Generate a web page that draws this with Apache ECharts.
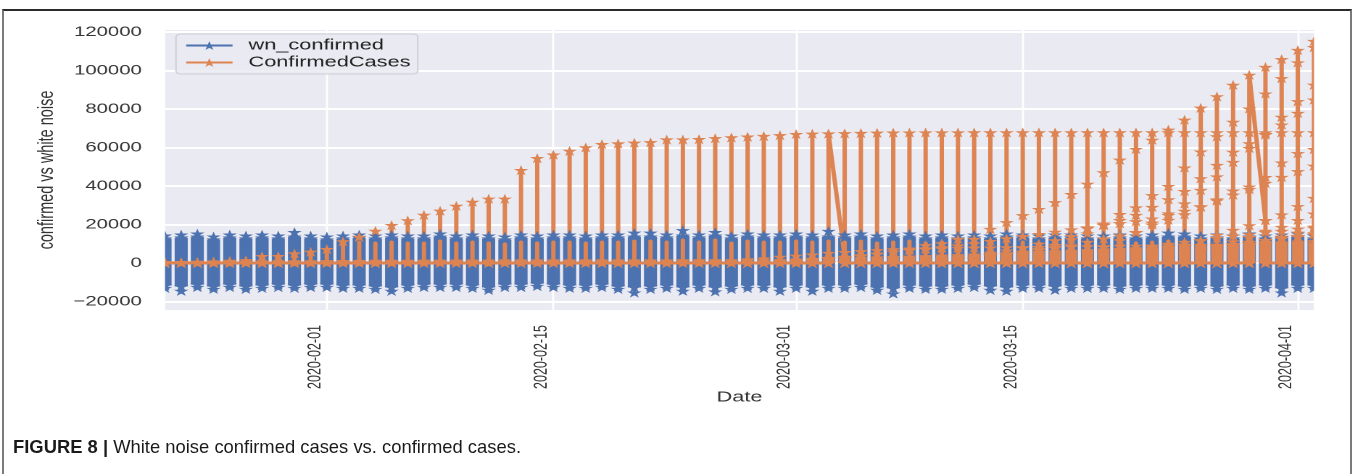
<!DOCTYPE html>
<html>
<head>
<meta charset="utf-8">
<title>White noise confirmed cases vs. confirmed cases</title>
<script src="https://cdn.jsdelivr.net/npm/echarts@6/dist/echarts.min.js"></script>
<style>
  html, body { margin: 0; padding: 0; background: #fff; overflow: hidden; }
  #page { position: relative; width: 1358px; height: 474px; }
  #frame { position: absolute; left: 2px; top: 9px; width: 1350px; height: 480px; z-index: 5;
           pointer-events: none; border: 2px solid #7a7a7a; border-top-color: #2b2b2b; box-sizing: border-box; }
  /* the plot is drawn in a narrower box and widened horizontally */
  #chart { position: absolute; left: 0; top: 0; width: 936.55px; height: 474px;
           transform: scaleX(1.45); transform-origin: 0 0; }
  #caption { position: absolute; left: 13px; top: 436px; line-height: 22px;
             font-family: 'Liberation Sans', Arial, sans-serif; font-size: 18.4px;
             color: #1a1a1a; white-space: nowrap; }
</style>
</head>
<body>
<div id="page">
  <div id="chart"></div>
  <div id="frame"></div>
  <div id="caption"><b>FIGURE 8 |</b> White noise confirmed cases vs. confirmed cases.</div>
</div>
<script>
// ---- dates (one column of rows per day) ----
const dates = [
  '2020-01-22','2020-01-23','2020-01-24','2020-01-25','2020-01-26','2020-01-27','2020-01-28','2020-01-29','2020-01-30','2020-01-31',
  '2020-02-01','2020-02-02','2020-02-03','2020-02-04','2020-02-05','2020-02-06','2020-02-07','2020-02-08','2020-02-09','2020-02-10',
  '2020-02-11','2020-02-12','2020-02-13','2020-02-14','2020-02-15','2020-02-16','2020-02-17','2020-02-18','2020-02-19','2020-02-20',
  '2020-02-21','2020-02-22','2020-02-23','2020-02-24','2020-02-25','2020-02-26','2020-02-27','2020-02-28','2020-02-29','2020-03-01',
  '2020-03-02','2020-03-03','2020-03-04','2020-03-05','2020-03-06','2020-03-07','2020-03-08','2020-03-09','2020-03-10','2020-03-11',
  '2020-03-12','2020-03-13','2020-03-14','2020-03-15','2020-03-16','2020-03-17','2020-03-18','2020-03-19','2020-03-20','2020-03-21',
  '2020-03-22','2020-03-23','2020-03-24','2020-03-25','2020-03-26','2020-03-27','2020-03-28','2020-03-29','2020-03-30','2020-03-31',
  '2020-04-01','2020-04-02'
];
const xTickDates = ['2020-02-01', '2020-02-15', '2020-03-01', '2020-03-15', '2020-04-01'];
const yTicks = [-20000, 0, 20000, 40000, 60000, 80000, 100000, 120000];

// ---- white noise per day: outer stars and the dense core ----
const noiseTop = [
  14200, 14700, 15200, 13700, 14700, 14200, 14700, 14200, 16000, 14200,
  13700, 14200, 14700, 14200, 14700, 14200, 14200, 15200, 14200, 14700,
  14200, 13700, 14700, 14200, 14700, 14700, 14200, 14700, 14700, 15700,
  15700, 14700, 17000, 14700, 16000, 14200, 15200, 14700, 14700, 15200,
  14700, 16600, 14700, 15200, 14200, 14700, 15200, 14200, 14700, 14200,
  14700, 14200, 15200, 14700, 14200, 14700, 14700, 14200, 14200, 14700,
  14200, 14700, 15700, 15200, 14200, 14700, 14200, 15200, 14200, 14700,
  15200, 14200
];
const noiseUpper = [
  12700, 13200, 13700, 12200, 13200, 12700, 13200, 12700, 13700, 12700,
  12200, 12700, 13200, 12700, 13200, 12700, 12700, 13700, 12700, 13200,
  12700, 12200, 13200, 12700, 13200, 13200, 12700, 13200, 13200, 13700,
  13700, 13200, 14200, 13200, 14200, 12700, 13700, 13200, 13200, 13700,
  13200, 13700, 13200, 13700, 12700, 13200, 13700, 12700, 13200, 12700,
  13200, 12700, 13700, 13200, 12700, 13200, 13200, 12700, 12700, 13200,
  12700, 13200, 13700, 13700, 12700, 13200, 12700, 13700, 12700, 13200,
  13700, 12700
];
const noiseLower = [
  -11700, -12200, -11200, -12200, -11200, -12200, -11700, -11200, -11700, -11200,
  -11200, -11700, -11700, -12200, -12700, -11700, -11200, -11200, -11200, -11700,
  -12700, -11200, -11200, -10700, -11200, -11700, -11700, -11200, -12200, -12700,
  -12200, -11700, -12700, -11700, -12700, -12200, -11700, -11700, -12700, -11700,
  -12700, -11700, -11700, -11200, -12700, -13200, -11700, -12200, -12200, -11700,
  -11200, -12200, -12700, -11700, -11700, -12200, -11700, -11700, -11700, -12200,
  -11700, -11700, -11700, -12200, -11700, -12200, -11700, -12200, -11700, -13200,
  -11700, -11700
];
const noiseBottom = [
  -13000, -14500, -12500, -13500, -12500, -13500, -13000, -12500, -13000, -12500,
  -12500, -13000, -13000, -13500, -14500, -13000, -12500, -12500, -12500, -13000,
  -14000, -12500, -12500, -12000, -12500, -13000, -13000, -12500, -13500, -15400,
  -13500, -13000, -14500, -13000, -14800, -13500, -13000, -13000, -14500, -13000,
  -14500, -13000, -13000, -12500, -14000, -15900, -13000, -13500, -13500, -13000,
  -12500, -14000, -14500, -13000, -13000, -14000, -13000, -13000, -13000, -13500,
  -13000, -13000, -13000, -13500, -13000, -13500, -13000, -13500, -13000, -15400,
  -13000, -13000
];

// ---- confirmed cases ----
// largest region of each day
const hubei = [
  444, 444, 549, 761, 1058, 1423, 3554, 3554, 4903, 5806,
  7153, 11177, 13522, 16678, 19665, 22112, 24953, 27100, 29631, 31728,
  33366, 33366, 48206, 54406, 56249, 58182, 59989, 61682, 62031, 62442,
  62662, 64084, 64084, 64287, 64786, 65187, 65596, 65914, 66337, 66907,
  67103, 67217, 67332, 67466, 67592, 67666, 67707, 67743, 67760, 67773,
  67781, 67786, 67790, 67794, 67798, 67799, 67800, 67800, 67800, 67800,
  67800, 67800, 67801, 67801, 67801, 67801, 67801, 67801, 67801, 67801,
  67801, 67801
];
// top of the dense cluster formed by the many small regions
const minorPeak = [
  300, 300, 350, 400, 500, 600, 700, 750, 800, 850,
  900, 950, 1000, 1050, 1100, 1100, 1150, 1150, 1200, 1200,
  1200, 1250, 1250, 1250, 1250, 1300, 1300, 1300, 1300, 1300,
  1300, 1300, 1350, 1350, 1350, 1350, 1350, 1350, 1400, 1600,
  1800, 2000, 2200, 2500, 2800, 3000, 3200, 3500, 3800, 4000,
  4300, 4600, 5000, 5300, 5600, 6000, 6300, 6600, 7000, 7300,
  7600, 8000, 8300, 8600, 9000, 9300, 9600, 10000, 10300, 10600,
  11000, 11300
];
// regions that rise above the cluster, each listed from its first visible day
const italy = [1694, 2036, 2502, 3089, 3858, 4636, 5883, 7375, 9172, 10149, 12462, 12462, 17660, 21157, 24747, 27980, 31506,
  35713, 41035, 47021, 53578, 59138, 63927, 69176, 74386, 80589, 86498, 92472, 97689, 101739, 105792, 110574, 115242];
const iran = [978, 1501, 2336, 2922, 3513, 4747, 5823, 6566, 7161, 8042, 9000, 10075, 11364, 12729, 13938, 14991, 16169,
  17361, 18407, 19644, 20610, 21638, 23049, 24811, 27017, 29406, 32332, 35408, 38309, 41495, 44605, 47593, 50468];
const korea = [1766, 2337, 3150, 3736, 4335, 5186, 5621, 6088, 6593, 7041, 7314, 7478, 7513, 7755, 7869, 7979, 8086, 8162,
  8236, 8320, 8413, 8565, 8652, 8799, 8897, 8961, 9037, 9137, 9241, 9332, 9478, 9583, 9661, 9786, 9887, 9976];
const spain = [1695, 2277, 2277, 5232, 6391, 7798, 9942, 11748, 13910, 17963, 20410, 25374, 28768, 35136, 39885, 49515,
  57786, 65719, 73235, 80110, 87956, 95923, 104118, 112065];
const germany = [1457, 1908, 2078, 3675, 4585, 5795, 7272, 9257, 12327, 15320, 19848, 22213, 24873, 29056, 32986, 37323,
  43938, 50871, 57695, 62095, 66885, 71808, 77872, 84794];
const france = [1784, 2281, 2281, 3661, 4469, 4499, 6633, 7652, 9043, 10871, 12612, 14282, 16018, 19856, 22304, 25233,
  29155, 32964, 37575, 39642, 44550, 52128, 56989, 59105];
const newYork = [5365, 8310, 11710, 15793, 20884, 25681, 30841, 37877, 44876, 52410, 59648, 66663, 75833, 83948, 92506];
const switzerland = [5294, 6575, 7245, 8795, 9877, 10897, 11811, 12928, 14076, 14829, 15922, 16605, 17768, 18827];
const unitedKingdom = [5683, 6650, 8077, 9529, 11658, 14543, 17089, 19522, 22141, 25150, 29474, 33718];
const newJersey = [4402, 6876, 8825, 11124, 13386, 16636, 18696, 22255, 25590];
const turkey = [5698, 7402, 9217, 10827, 13531, 15679, 18135];
const belgium = [7284, 9134, 10836, 11899, 12775, 13964, 15348];
const netherlands = [8603, 9762, 10866, 11750, 12595, 13614, 14697];

const regionStarts = [
  ['2020-03-01', italy], ['2020-03-01', iran], ['2020-02-27', korea],
  ['2020-03-10', spain], ['2020-03-10', germany], ['2020-03-10', france],
  ['2020-03-19', newYork], ['2020-03-20', switzerland], ['2020-03-22', unitedKingdom],
  ['2020-03-25', newJersey], ['2020-03-27', turkey], ['2020-03-27', belgium], ['2020-03-27', netherlands]
];
// days whose trace leaves from its highest row straight into the next day's first row
const crossovers = [['2020-03-03', 3000], ['2020-03-29', 22141]];

// ---- build the traces ----
const S = 1.45;                       // horizontal widening of the plot box
const BLUE = '#4C72B0', ORANGE = '#DD8452';
const STAR = 'path://M50,0L61.2,34.5L97.6,34.5L68.2,55.9L79.4,90.5L50,69.1L20.6,90.5L31.8,55.9L2.4,34.5L38.8,34.5Z';

const toTime = d => new Date(d + 'T00:00:00Z').getTime();
const dayTime = dates.map(toTime);
const dayIndex = {};
dates.forEach((d, i) => { dayIndex[d] = i; });

function regionValuesOn(i) {
  const out = [];
  regionStarts.forEach(([from, vals]) => {
    const k = i - dayIndex[from];
    if (k >= 0 && k < vals.length) out.push(vals[k]);
  });
  return out;
}
const crossMap = {};
crossovers.forEach(([d, v]) => { crossMap[dayIndex[d]] = v; });

const noisePath = [];
dates.forEach((d, i) => {
  const t = dayTime[i];
  noisePath.push([t, noiseUpper[i]], [t, noiseTop[i]], [t, noiseBottom[i]], [t, noiseLower[i]], [t, '-']);
});

const confirmedPath = [];
let carried = null;
dates.forEach((d, i) => {
  const t = dayTime[i];
  if (carried !== null) { confirmedPath.push([t, carried]); carried = null; }
  confirmedPath.push([t, 0]);
  const vals = [minorPeak[i], ...regionValuesOn(i), hubei[i]].sort((a, b) => a - b);
  vals.forEach((v, k) => {
    confirmedPath.push([t, v]);
    const leaves = (k === vals.length - 1) && (crossMap[i] !== undefined);
    if (!leaves) confirmedPath.push([t, 0]);
  });
  if (crossMap[i] !== undefined) carried = crossMap[i];
});

const noiseCore = dates.map((d, i) => [dayTime[i], noiseLower[i], noiseUpper[i]]);
const confirmedCore = dates.map((d, i) => [dayTime[i], 0, minorPeak[i]]);

function columnBand(width, color) {
  return function (params, api) {
    const x = api.value(0);
    const lo = api.coord([x, api.value(1)]);
    const hi = api.coord([x, api.value(2)]);
    return {
      type: 'rect',
      shape: { x: lo[0] - width / 2, y: hi[1], width: width, height: lo[1] - hi[1] },
      style: { fill: color }
    };
  };
}

const gridLeft = 165 / S, gridWidth = 1149 / S, W = 1358 / S;
const fmtDate = v => new Date(v).toISOString().slice(0, 10);
const fmtNum = v => (v < 0 ? '\u2212' + (-v) : String(v));
const xTickTimes = xTickDates.map(toTime);

const chart = echarts.init(document.getElementById('chart'), null, { devicePixelRatio: 2 });
chart.setOption({
  animation: false,
  textStyle: { fontFamily: "'Liberation Sans', Arial, sans-serif" },
  grid: { left: gridLeft, top: 30, width: gridWidth, height: 280, show: true,
          backgroundColor: '#EAEAF2', borderWidth: 0 },
  legend: {
    data: ['wn_confirmed', 'ConfirmedCases'],
    orient: 'vertical', left: 176 / S, top: 34,
    padding: [4, 5, 4, 6], itemGap: 2, itemWidth: 32, itemHeight: 11,
    backgroundColor: 'rgba(234,234,242,0.85)', borderColor: '#cfcfd6', borderWidth: 1, borderRadius: 3,
    textStyle: { fontSize: 15, color: '#222', padding: [0, 0, 0, 6] },
    selectedMode: false
  },
  xAxis: {
    type: 'value', min: dayTime[0], max: dayTime[dayTime.length - 1],
    name: 'Date', nameLocation: 'middle', nameGap: 80, nameMoveOverlap: false,
    nameTextStyle: { fontSize: 15, color: '#333', verticalAlign: 'top' },
    axisLine: { show: false },
    axisTick: { show: false, customValues: xTickTimes },
    axisLabel: { customValues: xTickTimes, rotate: 90, margin: 15, fontSize: 12.5,
                 color: '#333', verticalAlign: 'bottom', lineHeight: 16, formatter: fmtDate },
    splitLine: { show: true, lineStyle: { color: '#ffffff', width: 1.4 } }
  },
  yAxis: {
    type: 'value', min: -24400, max: 121000,
    name: 'confirmed vs white noise', nameLocation: 'middle', nameRotate: 90, nameGap: 74,
    nameTextStyle: { fontSize: 14.5, color: '#333' },
    axisLine: { show: false },
    axisTick: { show: false, customValues: yTicks },
    axisLabel: { customValues: yTicks, margin: 16, fontSize: 14, color: '#333', formatter: fmtNum },
    splitLine: { show: true, lineStyle: { color: '#ffffff', width: 2 } }
  },
  graphic: [
    { type: 'rect', z: 100, silent: true, shape: { x: gridLeft - 8, y: 20, width: 8, height: 300 }, style: { fill: '#fff' } },
    { type: 'rect', z: 100, silent: true, shape: { x: gridLeft + gridWidth, y: 20, width: W - gridLeft - gridWidth, height: 300 }, style: { fill: '#fff' } }
  ],
  series: [
    { name: 'wnCore', type: 'custom', renderItem: columnBand(9, BLUE), data: noiseCore,
      encode: { x: 0, y: [1, 2] }, clip: true, silent: true },
    { name: 'wn_confirmed', type: 'line', data: noisePath, color: BLUE,
      lineStyle: { width: 1.5, color: BLUE }, itemStyle: { color: BLUE },
      symbol: STAR, symbolSize: 10, showSymbol: true, connectNulls: false, silent: true },
    { name: 'confirmedCore', type: 'custom', renderItem: columnBand(8, ORANGE), data: confirmedCore,
      encode: { x: 0, y: [1, 2] }, clip: true, silent: true },
    { name: 'ConfirmedCases', type: 'line', data: confirmedPath, color: ORANGE,
      lineStyle: { width: 3, color: ORANGE }, itemStyle: { color: ORANGE },
      symbol: STAR, symbolSize: 10, showSymbol: true, silent: true }
  ]
});
</script>
</body>
</html>
